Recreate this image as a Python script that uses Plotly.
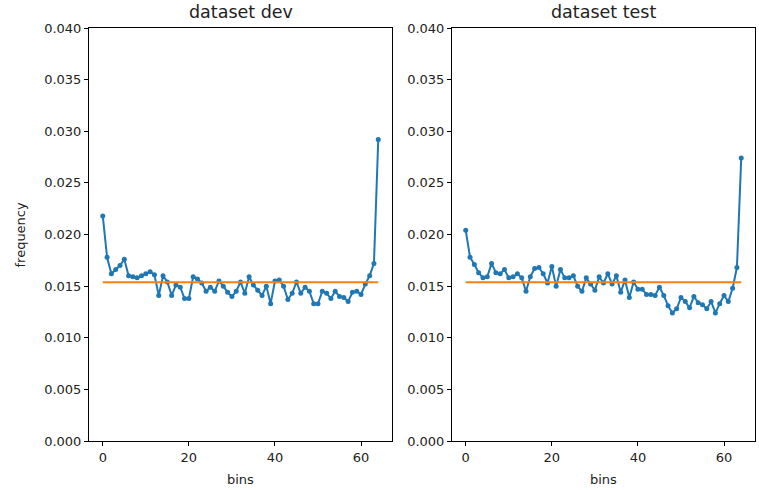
import plotly.graph_objects as go

bins = list(range(65))
dev = [0.0218, 0.0178, 0.0162, 0.0166, 0.0170, 0.0176, 0.0160, 0.0159, 0.0158, 0.0160,
       0.0162, 0.0164, 0.0161, 0.0141, 0.0160, 0.0154, 0.0141, 0.0151, 0.0149, 0.0138,
       0.0138, 0.0159, 0.0157, 0.0153, 0.0145, 0.0149, 0.0145, 0.0155, 0.0150, 0.0144,
       0.0140, 0.0145, 0.0154, 0.0143, 0.0159, 0.0151, 0.0146, 0.0141, 0.0150, 0.0133,
       0.0155, 0.0156, 0.0150, 0.0137, 0.0143, 0.0154, 0.0143, 0.0149, 0.0145, 0.0133,
       0.0133, 0.0145, 0.0143, 0.0138, 0.0145, 0.0140, 0.0139, 0.0135, 0.0144, 0.0145,
       0.0142, 0.0152, 0.0160, 0.0172, 0.0292]
test = [0.0204, 0.0178, 0.0171, 0.0163, 0.0158, 0.0159, 0.0172, 0.0163, 0.0162, 0.0166,
        0.0158, 0.0159, 0.0162, 0.0158, 0.0145, 0.0159, 0.0167, 0.0168, 0.0162, 0.0153,
        0.0169, 0.0150, 0.0166, 0.0158, 0.0158, 0.0160, 0.0150, 0.0145, 0.0158, 0.0152,
        0.0146, 0.0159, 0.0153, 0.0162, 0.0152, 0.0160, 0.0144, 0.0156, 0.0139, 0.0154,
        0.0147, 0.0147, 0.0142, 0.0142, 0.0141, 0.0149, 0.0141, 0.0131, 0.0124, 0.0128,
        0.0139, 0.0135, 0.0129, 0.0140, 0.0134, 0.0132, 0.0128, 0.0135, 0.0124, 0.0133,
        0.0141, 0.0135, 0.0148, 0.0168, 0.0274]
uniform = [1 / 65] * 65
titles = ["dataset dev", "dataset test"]
yticks = [0.0, 0.005, 0.01, 0.015, 0.02, 0.025, 0.03, 0.035, 0.04]
xticks = [0, 20, 40, 60]

BLUE = "#1f77b4"
ORANGE = "#ff7f0e"
FONT = "DejaVu Sans"

fig = go.Figure()
for k, series in enumerate([dev, test]):
    xa = "x" if k == 0 else "x2"
    ya = "y" if k == 0 else "y2"
    fig.add_trace(go.Scatter(x=bins, y=series, mode="lines+markers", xaxis=xa, yaxis=ya,
                             line=dict(color=BLUE, width=2), marker=dict(color=BLUE, size=5),
                             showlegend=False, hoverinfo="skip"))
    fig.add_trace(go.Scatter(x=bins, y=uniform, mode="lines", xaxis=xa, yaxis=ya,
                             line=dict(color=ORANGE, width=2), showlegend=False, hoverinfo="skip"))

axis_common = dict(showline=True, linecolor="black", linewidth=1, mirror=True,
                   ticks="outside", ticklen=4, tickcolor="black", showgrid=False,
                   zeroline=False, automargin=False,
                   tickfont=dict(family=FONT, size=13, color="#222"))

fig.update_layout(
    width=759, height=490,
    margin=dict(l=89, r=4, t=28, b=49),
    paper_bgcolor="white", plot_bgcolor="white",
    font=dict(family=FONT, size=13, color="#222"),
    xaxis=dict(domain=[0, 0.455], range=[-3.2, 67.2], tickvals=xticks, anchor="y", **axis_common),
    yaxis=dict(range=[0, 0.04], tickvals=yticks, tickformat=".3f", anchor="x", **axis_common),
    xaxis2=dict(domain=[0.545, 1], range=[-3.2, 67.2], tickvals=xticks, anchor="y2", **axis_common),
    yaxis2=dict(range=[0, 0.04], tickvals=yticks, tickformat=".3f", anchor="x2", **axis_common),
)

for k, t in enumerate(titles):
    xc = 0.2275 if k == 0 else 0.7725
    fig.add_annotation(text=t, x=xc, y=1, xref="paper", yref="paper", xanchor="center",
                       yanchor="bottom", yshift=4, showarrow=False,
                       font=dict(family=FONT, size=17.5, color="#222"))
    fig.add_annotation(text="bins", x=xc, y=0, xref="paper", yref="paper", xanchor="center",
                       yanchor="middle", yshift=-38, showarrow=False,
                       font=dict(family=FONT, size=13, color="#222"))

fig.add_annotation(text="frequency", x=0, y=0.5, xref="paper", yref="paper", xanchor="center",
                   yanchor="middle", xshift=-69, textangle=-90, showarrow=False,
                   font=dict(family=FONT, size=13, color="#222"))

post = ("document.body.style.margin='0';document.body.style.padding='0';"
        "document.body.style.overflow='hidden';"
        "Plotly.relayout('{plot_id}', {width: 759, height: 490});")
fig.write_html("out.html", post_script=post, config={"displayModeBar": False})
